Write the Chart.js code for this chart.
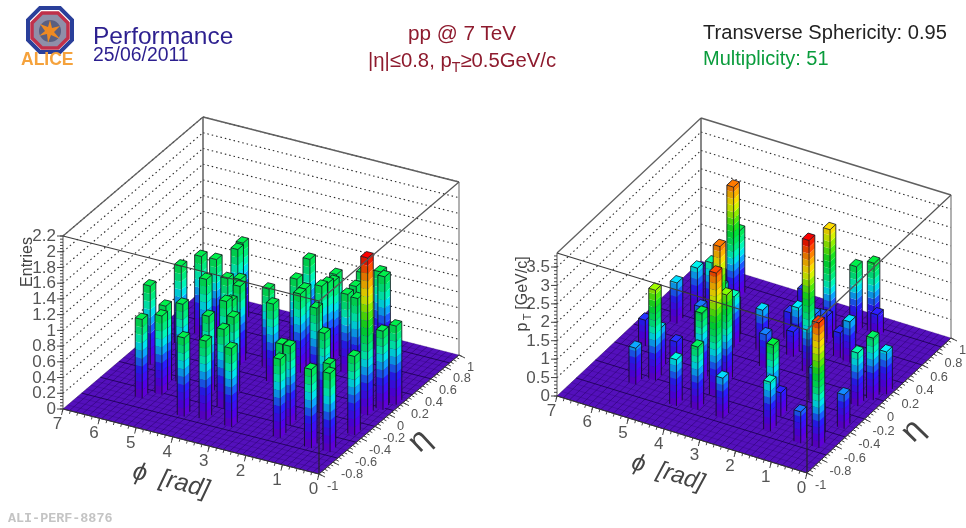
<!DOCTYPE html>
<html><head><meta charset="utf-8">
<script src="https://cdn.jsdelivr.net/npm/chart.js@4/dist/chart.umd.min.js"></script>
<style>
html,body{margin:0;padding:0;background:#fff;width:966px;height:528px;overflow:hidden}
canvas{position:absolute;top:0;filter:blur(.6px)}
#c1{left:0}#c2{left:483px}
.t{position:absolute;font-family:"Liberation Sans",Arial,sans-serif;white-space:nowrap;filter:blur(.45px);line-height:1}
.t sub{font-size:.7em;vertical-align:-.32em;line-height:0}
</style></head><body>
<canvas id="c1" width="483" height="528"></canvas>
<canvas id="c2" width="483" height="528"></canvas>
<svg style="position:absolute;left:18px;top:6px;filter:blur(.6px)" width="64" height="62" viewBox="0 0 64 62">
<polygon points="22,2 42,2 54,14 54,34 42,46 22,46 10,34 10,14" fill="none" stroke="#2a3f9a" stroke-width="4"/>
<polygon points="24,7 40,7 50,17 50,32 40,42 24,42 14,32 14,17" fill="#8f8fa8" stroke="#c0304a" stroke-width="3.5"/>
<circle cx="32" cy="25" r="11" fill="#5a5f80"/>
<polygon points="32,14 34,22 42,20 36,26 42,33 33,29 30,37 29,28 21,30 27,25 22,18 30,21" fill="#ee8a22"/>
<text x="3" y="59" font-family="Liberation Sans" font-weight="bold" font-size="17.5" fill="#f5a23c">ALICE</text>
</svg>
<div class="t" style="left:93px;top:24px;font-size:24.5px;color:#2c1f8f">Performance</div>
<div class="t" style="left:93px;top:45px;font-size:19.4px;color:#2c1f8f">25/06/2011</div>
<div class="t" style="left:408px;top:23px;font-size:20.7px;color:#8e1b2e">pp @ 7 TeV</div>
<div class="t" style="left:368px;top:50px;font-size:20.3px;color:#8e1b2e">|η|≤0.8, p<sub>T</sub>≥0.5GeV/c</div>
<div class="t" style="left:703px;top:22px;font-size:20.1px;color:#222">Transverse Sphericity: 0.95</div>
<div class="t" style="left:703px;top:48px;font-size:20px;color:#0a9c3c">Multiplicity: 51</div>
<div class="t" style="left:8px;top:512px;font-family:'Liberation Mono',monospace;font-weight:bold;font-size:13.4px;color:#c4c4c4">ALI-PERF-8876</div>
<script>
// Track cells: phi, eta (front corner of the bin), entries and summed pT
const phiValues = [5.60,6.26,5.27,5.43,5.12,4.26,6.10,5.91,5.24,5.52,4.27,3.72,4.27,3.63,3.00,3.72,4.17,4.81,4.36,4.52,5.32,5.37,3.68,3.22,3.34,2.90,2.92,3.56,2.20,2.64,2.59,2.51,2.62,1.89,1.91,1.58,0.43,1.55,1.75,2.10,0.24,0.09,0.21,1.41,0.54,0.31,0.80,1.71,2.03,1.82];
const etaValues = [-0.60,-0.14,-0.49,-0.35,-0.27,-0.70,0.22,0.41,0.13,0.42,-0.34,-0.67,-0.09,-0.46,-0.68,-0.27,-0.07,0.21,0.15,0.24,0.62,0.72,0.21,0.03,0.43,0.25,0.33,0.73,0.12,0.42,0.48,0.52,0.62,0.40,0.53,0.38,-0.08,0.75,0.80,0.73,0.04,0.15,-0.38,-0.18,-0.56,-0.68,-0.69,-0.66,-0.46,-0.46];
const entryValues = [1,1,1,1,1,1,1,1,1,1,1,1,1,1,1,1,1,1,1,1,1,1,1,1,1,1,1,1,1,1,1,1,1,1,1,1,2,1,1,1,1,1,1,1,1,1,1,1,1,1];
const ptValues = [0.98,0.70,2.45,1.10,0.69,1.25,1.10,1.21,0.87,1.45,1.85,1.70,3.20,3.35,1.09,2.38,1.00,1.40,1.37,1.00,3.20,1.80,1.10,0.90,0.73,0.67,1.17,0.73,3.60,0.90,0.78,0.70,2.85,0.67,0.70,1.10,1.44,0.62,1.87,1.80,1.68,1.15,0.92,0.90,0.80,3.39,0.85,1.33,1.87,0.64];
const phiRange = [0,7], etaRange = [-1,1];
const entriesMax = 2.2, ptMax = 3.88;

const FONT = '"Liberation Sans",Arial,sans-serif';
const palette = [[0,[100,0,205]],[.08,[80,0,235]],[.18,[40,30,255]],[.25,[20,125,255]],[.31,[0,220,255]],[.37,[0,250,190]],[.44,[0,235,110]],[.55,[0,225,40]],[.65,[110,240,0]],[.75,[250,245,0]],[.85,[255,160,0]],[.93,[255,70,0]],[1,[240,0,0]]];
function pal(f,s){let i=0;while(i<palette.length-2&&f>palette[i+1][0])i++;
 const a=palette[i],b=palette[i+1],t=Math.min(1,Math.max(0,(f-a[0])/(b[0]-a[0])));
 return 'rgb('+[0,1,2].map(k=>Math.min(255,Math.round((a[1][k]+(b[1][k]-a[1][k])*t)*s))).join(',')+')';}
function dec(s,v){const a=s.getPixelForValue(s.min),b=s.getPixelForValue(s.max);return (s.getPixelForValue(v)-a)/(b-a);}
const fmt=v=>String(Number(v.toFixed(2)));

const legoPlugin = {
 id:'lego',
 afterDatasetsDraw(chart,args,o){
  const ctx=chart.ctx,sx=chart.scales.x,sy=chart.scales.y,sz=chart.scales.z;
  const P=(phi,eta,z)=>{const u=dec(sx,phi),v=dec(sy,eta),w=dec(sz,z);
    return [o.ox-o.left+u*o.px+v*o.ex, o.oy+u*o.py+v*o.ey-w*o.h];};
  const poly=(pts,fill,stroke,lw)=>{ctx.beginPath();pts.forEach((p,i)=>i?ctx.lineTo(p[0],p[1]):ctx.moveTo(p[0],p[1]));ctx.closePath();
    if(fill){ctx.fillStyle=fill;ctx.fill();}if(stroke){ctx.strokeStyle=stroke;ctx.lineWidth=lw||1;ctx.stroke();}};
  const line=(a,b,c,lw,dash)=>{ctx.beginPath();ctx.setLineDash(dash||[]);ctx.moveTo(a[0],a[1]);ctx.lineTo(b[0],b[1]);ctx.strokeStyle=c;ctx.lineWidth=lw;ctx.stroke();ctx.setLineDash([]);};
  const zTop=sz.max,[p0,p1]=[sx.min,sx.max],[e0,e1]=[sy.min,sy.max];
  ctx.save();
  // back walls: dotted level lines
  sz.ticks.forEach(t=>{ if(t.value<=0) return;
    line(P(p1,e0,t.value),P(p1,e1,t.value),'#2a2a2a',1.1,[1.5,3]);
    line(P(p1,e1,t.value),P(p0,e1,t.value),'#2a2a2a',1.1,[1.5,3]);});
  // back frame
  line(P(p1,e0,zTop),P(p1,e1,zTop),'#606060',1.3);
  line(P(p1,e1,zTop),P(p0,e1,zTop),'#606060',1.7);
  line(P(p1,e1,0),P(p1,e1,zTop),'#555',1.4);
  line(P(p0,e1,0),P(p0,e1,zTop),'#909090',1.4);
  line(P(p1,e0,0),P(p1,e0,zTop),'#707070',1.2);
  // floor
  poly([P(p0,e0,0),P(p1,e0,0),P(p1,e1,0),P(p0,e1,0)],'#5410bc');
  const nPhi=40,nEta=30;
  for(let i=0;i<=nPhi;i++){const ph=p0+(p1-p0)*i/nPhi;line(P(ph,e0,0),P(ph,e1,0),'rgba(35,0,95,.5)',1);}
  for(let j=0;j<=nEta;j++){const et=e0+(e1-e0)*j/nEta;line(P(p0,et,0),P(p1,et,0),j%4==0?'rgba(25,0,75,.8)':'rgba(35,0,95,.25)',1);}
  // bars, far to near
  const pts=chart.data.datasets[0].data.slice().sort((a,b)=>P(a.x,a.y,0)[1]-P(b.x,b.y,0)[1]);
  const dp=0.19,de=0.08,levels=20,zRef=o.paletteMax,step=zRef/levels;
  const edge='rgba(15,15,25,.8)';
  pts.forEach(b=>{
   const x0=b.x,x1=b.x+dp,y0=b.y,y1=b.y+de;
   for(let i=0;i<levels;i++){
    const z1=i*step; if(z1>=b.z) break; const z2=Math.min(b.z,z1+step), f=(i+.5)/levels;
    poly([P(x0,y0,z1),P(x1,y0,z1),P(x1,y0,z2),P(x0,y0,z2)],pal(f,.88));
    poly([P(x0,y0,z1),P(x0,y1,z1),P(x0,y1,z2),P(x0,y0,z2)],pal(f,1));
   }
   const ft=Math.min(1,b.z/zRef);
   poly([P(x0,y0,b.z),P(x1,y0,b.z),P(x1,y1,b.z),P(x0,y1,b.z)],pal(ft,1.05),edge,1);
   line(P(x0,y0,0),P(x0,y0,b.z),edge,1);
   line(P(x1,y0,0),P(x1,y0,b.z),edge,1);
   line(P(x0,y1,0),P(x0,y1,b.z),edge,1);
  });
  // front frame drawn over the bars
  line(P(p1,e0,zTop),P(p0,e0,zTop),'#3c3c3c',1.2);
  line(P(p0,e0,zTop),P(p0,e1,zTop),'#555',1.2);
  line(P(p0,e0,0),P(p0,e0,zTop),'#222',1.1);
  line(P(p1,e0,0),P(p0,e0,0),'#333',1);
  line(P(p0,e0,0),P(p0,e1,0),'#333',1);
  // z axis
  const tc='#555';
  ctx.fillStyle=tc;ctx.textAlign='right';ctx.textBaseline='middle';ctx.font='17px '+FONT;
  const zStep=o.zStep,zMinor=zStep/5;
  for(let v=0;v<=zTop+1e-6;v+=zMinor){const p=P(p1,e0,v);line(p,[p[0]-3,p[1]],'#444',1);}
  sz.ticks.forEach(t=>{const p=P(p1,e0,t.value);line(p,[p[0]-6,p[1]],'#444',1);ctx.fillStyle=tc;ctx.fillText(fmt(t.value),p[0]-7,p[1]+.5);});
  // phi axis
  ctx.textAlign='center';ctx.font='17px '+FONT;
  for(let v=0;v<=7+1e-6;v+=0.2){const p=P(v,e0,0);line(p,[p[0]-.8,p[1]+3],'#444',1);}
  sx.ticks.forEach(t=>{const p=P(t.value,e0,0);line(p,[p[0]-1.5,p[1]+6],'#444',1);ctx.fillStyle=tc;ctx.fillText(fmt(t.value),p[0]-5.5,p[1]+15.5);});
  // eta axis
  ctx.textAlign='left';ctx.font='12.8px '+FONT;
  for(let v=-1;v<=1+1e-6;v+=0.04){const p=P(p0,v,0);line(p,[p[0]+3,p[1]+1.5],'#444',1);}
  sy.ticks.forEach(t=>{const p=P(p0,t.value,0);line(p,[p[0]+6,p[1]+3],'#444',1);ctx.fillStyle=tc;ctx.fillText(fmt(t.value),p[0]+8,p[1]+12);});
  // axis titles
  const rot=(txt,x,y,a,font,col)=>{ctx.save();ctx.translate(x-o.left,y);ctx.rotate(a);ctx.textAlign='center';ctx.textBaseline='middle';ctx.font=font;ctx.fillStyle=col;ctx.fillText(txt,0,0);ctx.restore();};
  rot('ϕ  [rad]',o.phiTitle[0],o.phiTitle[1],o.phiTitle[2],'italic '+o.phiTitle[3]+'px '+FONT,'#444');
  rot('η',o.etaTitle[0],o.etaTitle[1],o.etaTitle[2],'32px '+FONT,'#444');
  if(o.zTitle==='Entries'){rot('Entries',28,262,-Math.PI/2,'16px '+FONT,'#444');}
  else{
   rot('p',523,327,-Math.PI/2,'16px '+FONT,'#444');
   rot('T',528,317,-Math.PI/2,'11px '+FONT,'#444');
   rot('[GeV/c]',523,283,-Math.PI/2,'16px '+FONT,'#444');
  }
  ctx.restore();
 }
};

function makeChart(id,label,zValues,zMax,zStep,opts){
 return new Chart(document.getElementById(id),{
  type:'scatter',
  data:{datasets:[{label,data:phiValues.map((x,i)=>({x,y:etaValues[i],z:zValues[i]})),pointRadius:0,pointHoverRadius:0,showLine:false}]},
  options:{responsive:false,animation:false,events:[],devicePixelRatio:1,
   layout:{padding:0},
   scales:{
    x:{type:'linear',display:false,min:phiRange[0],max:phiRange[1],ticks:{stepSize:1,autoSkip:false}},
    y:{type:'linear',display:false,min:etaRange[0],max:etaRange[1],ticks:{stepSize:0.2,autoSkip:false}},
    z:{type:'linear',axis:'y',display:false,min:0,max:zMax,ticks:{stepSize:zStep,autoSkip:false,includeBounds:false}}
   },
   plugins:{legend:{display:false},tooltip:{enabled:false},lego:Object.assign({zStep},opts)}
  },
  plugins:[legoPlugin]
 });
}
makeChart('c1','Entries',entryValues,entriesMax,0.2,{left:0,ox:319,oy:474,px:-256,py:-65,ex:140,ey:-119,h:173,paletteMax:2,zTitle:'Entries',
 phiTitle:[171,481,0.25,25],etaTitle:[420,441,-0.75]});
makeChart('c2','pT [GeV/c]',ptValues,ptMax,0.5,{left:483,ox:807,oy:473,px:-250,py:-77,ex:144,ey:-135,h:143,paletteMax:3.6,zTitle:'pT',
 phiTitle:[668,473,0.3,24],etaTitle:[913,431,-0.8]});
</script>
</body></html>
